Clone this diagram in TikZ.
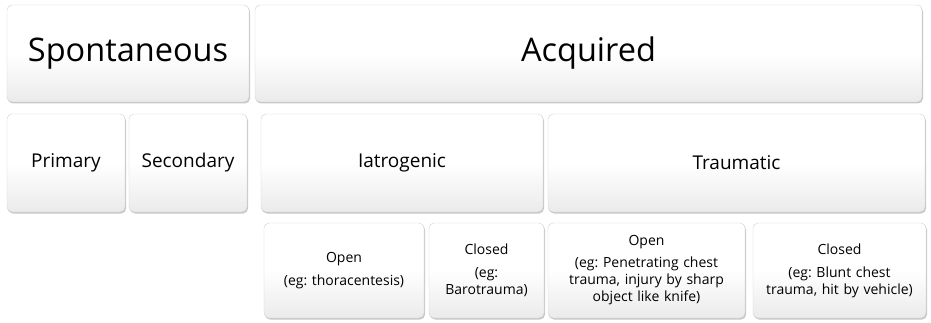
\documentclass[tikz,border=0pt]{standalone}
\usepackage{fontspec}
\setmainfont{Open Sans}
\frenchspacing
\usetikzlibrary{shadows,shadings}
\tikzset{
  box/.style={rounded corners=5pt, draw=gray!35, line width=0.4pt,
    top color=white, bottom color=gray!16, middle color=white,
    drop shadow={shadow xshift=1pt, shadow yshift=-1.5pt, opacity=0.5, fill=gray!85},
    align=center, inner sep=2pt, text=black},
  big/.style={font=\fontsize{32.5}{38}\selectfont},
  mid/.style={font=\fontsize{19}{23}\selectfont},
  small/.style={font=\fontsize{14}{17}\selectfont},
}
\newcommand{\mkbox}[6]{% style, name, x1, y1, x2, y2 ; text follows
  \node[box,#1,minimum width=#5-#3, minimum height=#6-#4, text width=#5-#3-6] (#2) at ({(#3+#5)/2},{(#4+#6)/2})}
\begin{document}
\begin{tikzpicture}[x=1pt,y=-1pt]
\useasboundingbox (0,0) rectangle (931,323);
\fill[white] (0,0) rectangle (931,323);
\mkbox{big}{spont}{7}{5}{249}{102} {Spontaneous\vphantom{g}};
\mkbox{big}{acq}{255}{5}{922}{102} {Acquired\vphantom{g}};
\mkbox{mid}{prim}{7}{114}{125}{212} {Primary};
\mkbox{mid}{sec}{129}{114}{247}{212} {Secondary};
\mkbox{mid}{iat}{261}{114}{543}{212} {Iatrogenic};
\mkbox{mid}{trau}{548}{114}{925}{212} {Traumatic};
\mkbox{small}{io}{264}{223}{424}{318} {Open\\[6pt](eg: thoracentesis)};
\mkbox{small}{ic}{429}{223}{544}{318} {Closed\\[6pt](eg:\\Barotrauma)};
\mkbox{small}{to}{548}{223}{745}{318} {Open\\[5pt](eg: Penetrating chest\\trauma, injury by sharp\\object like knife)};
\mkbox{small}{tc}{753}{223}{926}{318} {Closed\\[6pt](eg: Blunt chest\\trauma, hit by vehicle)};
\end{tikzpicture}
\end{document}
